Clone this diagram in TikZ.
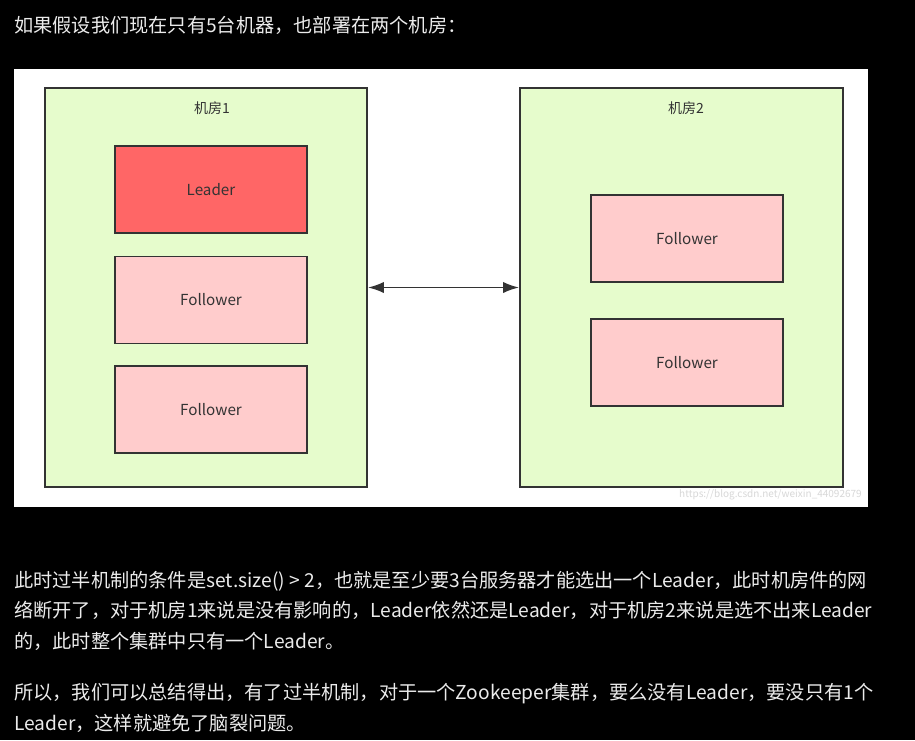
\documentclass[tikz,border=0pt]{standalone}
\usepackage{fontspec}
\setmainfont{Noto Sans CJK SC}
\usetikzlibrary{arrows.meta}
\definecolor{bgc}{HTML}{000000}
\definecolor{txt}{HTML}{EBEBEB}
\definecolor{roomfill}{HTML}{E6FCCC}
\definecolor{leadfill}{HTML}{FF6666}
\definecolor{follfill}{HTML}{FFCCCC}
\definecolor{edge}{HTML}{333333}
\definecolor{wm}{HTML}{D8D8D8}
\tikzset{
  room/.style={draw=edge, fill=roomfill, line width=1.4pt, minimum width=241.5pt, minimum height=299.25pt, inner sep=0pt},
  srv/.style={draw=edge, line width=1.4pt, minimum width=144pt, minimum height=65.25pt, inner sep=0pt, text=edge, font=\fontsize{11.4pt}{13pt}\selectfont},
  lead/.style={srv, fill=leadfill},
  foll/.style={srv, fill=follfill},
  rlabel/.style={text=edge, font=\fontsize{10.5pt}{12pt}\selectfont, inner sep=0pt},
  para/.style={anchor=base west, text=txt, inner sep=0pt, font=\fontsize{14.4pt}{17pt}\selectfont},
  link/.style={draw=edge, line width=1.4pt, {Latex[length=12pt,width=8.5pt]}-{Latex[length=12pt,width=8.5pt]}}
}
\newcommand{\lowered}[1]{\raisebox{-1.5pt}{#1}}
\begin{document}
\begin{tikzpicture}[x=0.75pt, y=-0.75pt]
\fill[bgc] (0,0) rectangle (915,740);
\useasboundingbox (0,0) rectangle (915,740);
\fill[white] (14,69) rectangle (868,507);
\node[para] (title) at (14,32) {如果假设我们现在只有5台机器，也部署在两个机房：};
\node[room] (room1) at (206,287.5) {};
\node[room, minimum width=242.25pt] (room2) at (681.5,287.5) {};
\node[rlabel] (l1) at (212,108) {机房1};
\node[rlabel] (l2) at (686,108) {机房2};
\node[lead] (leader) at (211,189.5) {\lowered{Leader}};
\node[foll] (f1) at (211,300) {\lowered{Follower}};
\node[foll] (f2) at (211,409.5) {\lowered{Follower}};
\node[foll] (rf1) at (687,238.5) {\lowered{Follower}};
\node[foll] (rf2) at (687,362.5) {\lowered{Follower}};
\draw[link] (room1.east) -- (room2.west);
\node[anchor=east, text=wm, inner sep=0pt, font=\fontsize{7.5pt}{9pt}\selectfont] (wmark) at (862,495) {https://blog.csdn.net/weixin\_44092679};
\node[para] (p1) at (14,587) {此时过半机制的条件是set.size() > 2，也就是至少要3台服务器才能选出一个Leader，此时机房件的网};
\node[para] (p2) at (14,617) {络断开了，对于机房1来说是没有影响的，Leader依然还是Leader，对于机房2来说是选不出来Leader};
\node[para] (p3) at (14,648) {的，此时整个集群中只有一个Leader。};
\node[para] (p4) at (14,699) {所以，我们可以总结得出，有了过半机制，对于一个Zookeeper集群，要么没有Leader，要没只有1个};
\node[para] (p5) at (14,730) {Leader，这样就避免了脑裂问题。};
\end{tikzpicture}
\end{document}
